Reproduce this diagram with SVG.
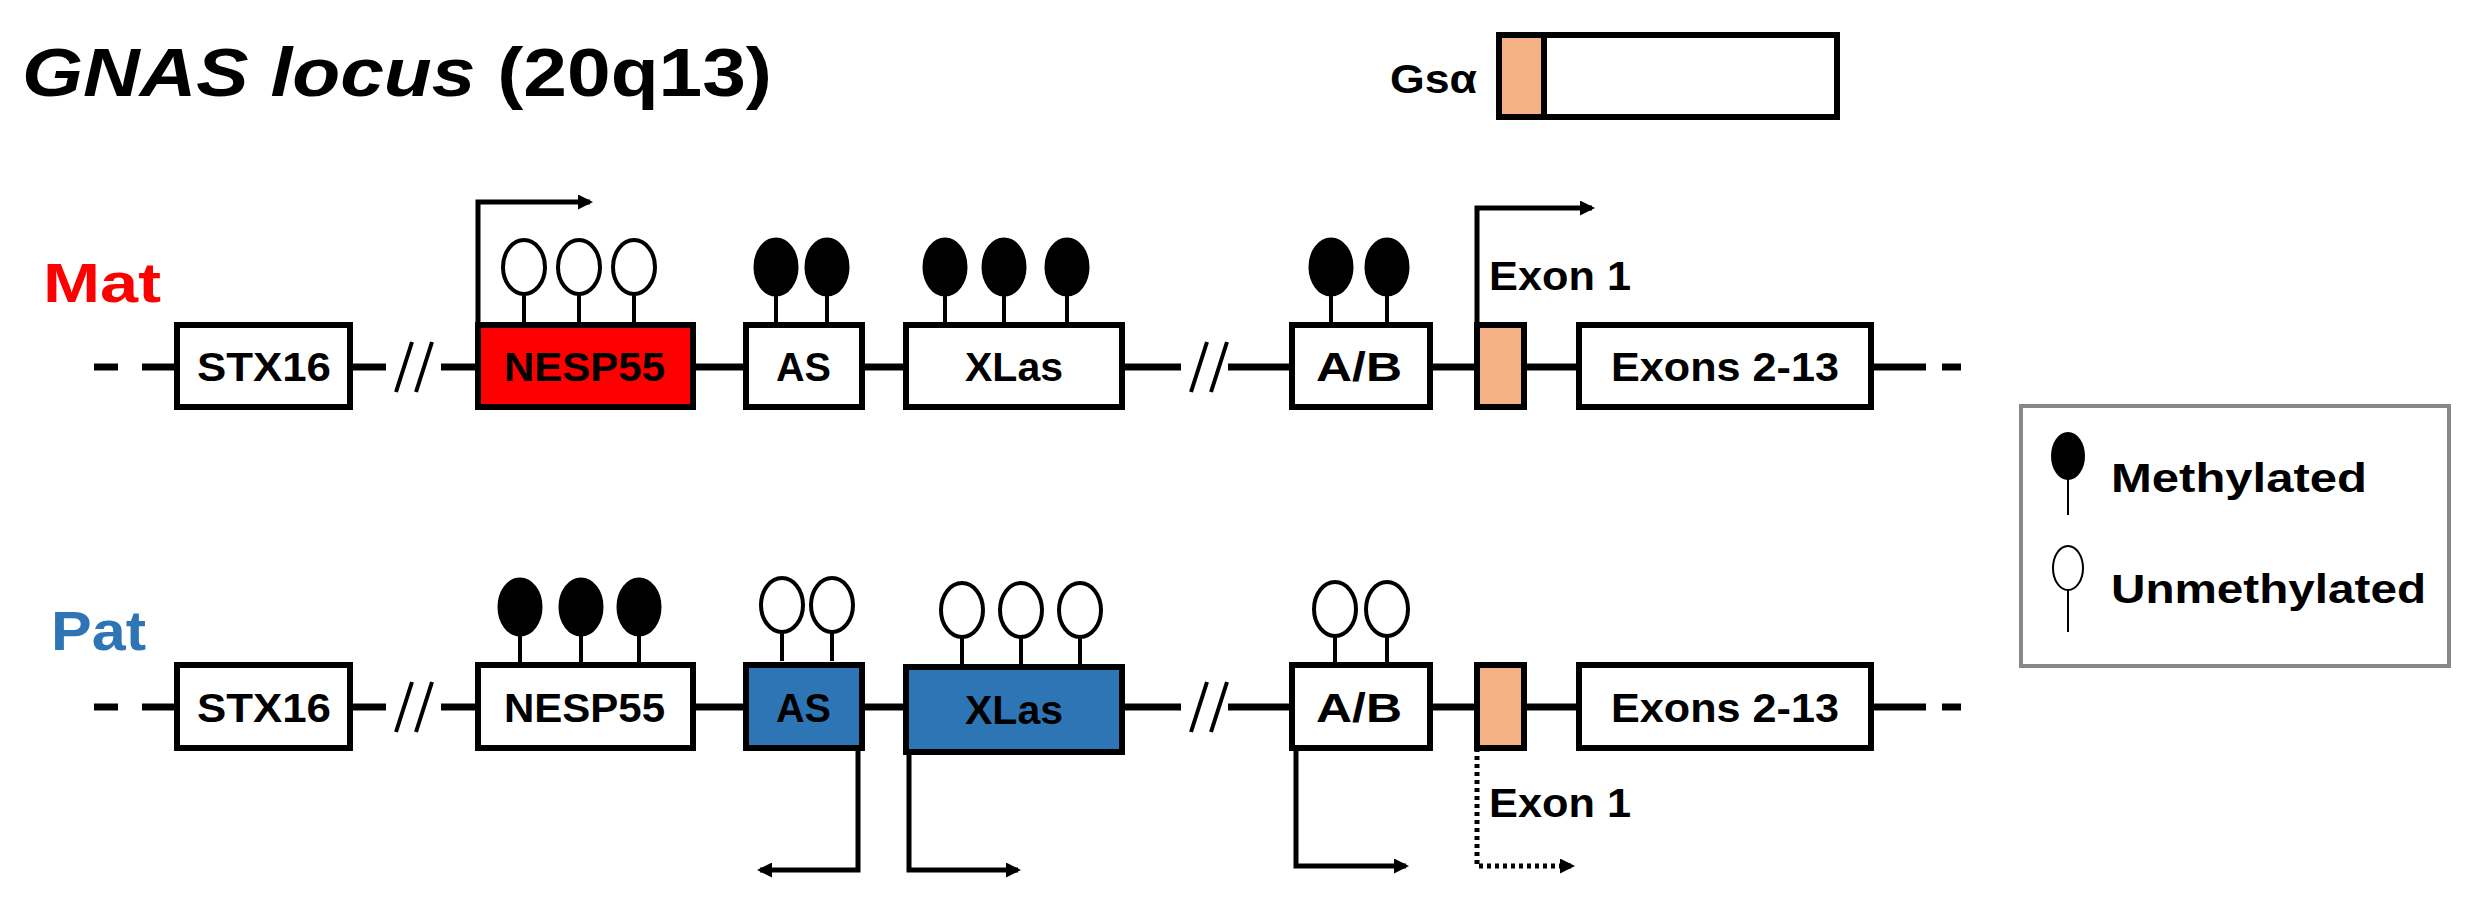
<svg xmlns="http://www.w3.org/2000/svg" width="2466" height="901" viewBox="0 0 2466 901">
<style>
text{font-family:"Liberation Sans",Arial,sans-serif;font-weight:bold;fill:#000}
.box{stroke:#000;stroke-width:6}
.w{fill:#fff}.r{fill:#ff0000}.b{fill:#2e75b6}.o{fill:#f4b183}
.ln{stroke:#000;stroke-width:7;fill:none}
.st{stroke:#000;stroke-width:4;fill:none}
.m{fill:#000;stroke:#000;stroke-width:3}
.u{fill:#fff;stroke:#000;stroke-width:4}
.lbl{font-size:40px}
.ar{stroke:#000;stroke-width:5;fill:none}
</style>
<defs>
<marker id="ah" viewBox="0 0 10 10" refX="8" refY="5" markerWidth="3" markerHeight="3" orient="auto"><path d="M0,0L10,5L0,10z" fill="#000"/></marker>
<g id="mlol"><line class="st" x1="0" y1="20" x2="0" y2="56"/><ellipse class="m" cx="0" cy="0" rx="21" ry="28"/></g>
<g id="ulol"><line class="st" x1="0" y1="26" x2="0" y2="56"/><ellipse class="u" cx="0" cy="0" rx="21" ry="27"/></g>
</defs>
<rect width="2466" height="901" fill="#fff"/>
<text x="22" y="96" font-size="68" textLength="750" lengthAdjust="spacingAndGlyphs"><tspan font-style="italic">GNAS locus</tspan> (20q13)</text>
<g id="gsa">
<text x="1390" y="93" font-size="40" textLength="87" lengthAdjust="spacingAndGlyphs">Gsα</text>
<rect class="box w" x="1499" y="35" width="338" height="82"/>
<rect class="box o" x="1499" y="35" width="45" height="82"/>
</g>
<g id="connectors">
<path class="ln" d="M94,367H118M142,367H177M350,367H386M441,367H476M693,367H746M862,367H906M1122,367H1181M1228,367H1292M1430,367H1475M1524,367H1579M1871,367H1926M1942,367H1961"/>
<path class="st" d="M396,392L412,342M416,392L432,342M1191,392L1207,342M1211,392L1227,342" stroke-width="5"/>
<path class="ln" d="M94,707H118M142,707H177M350,707H386M441,707H476M693,707H746M862,707H906M1122,707H1181M1228,707H1292M1430,707H1475M1524,707H1579M1871,707H1926M1942,707H1961"/>
<path class="st" d="M396,732L412,682M416,732L432,682M1191,732L1207,682M1211,732L1227,682" stroke-width="5"/>
<path class="ar" d="M478,323V202H590" stroke-width="5" marker-end="url(#ah)"/>
<path class="ar" d="M1477,323V208H1592" stroke-width="6" marker-end="url(#ah)"/>
<path class="ar" d="M858,748V870H760" marker-end="url(#ah)"/>
<path class="ar" d="M909,752V870H1018" marker-end="url(#ah)"/>
<path class="ar" d="M1296,748V866H1406" stroke-width="6" marker-end="url(#ah)"/>
<path class="ar" d="M1477,748V866H1572" stroke-dasharray="4,4" stroke-width="4" marker-end="url(#ah)"/>
</g>
<text x="43" y="302" font-size="56" style="fill:#ff0000" textLength="118" lengthAdjust="spacingAndGlyphs">Mat</text>
<text x="51" y="650" font-size="56" style="fill:#2e75b6" textLength="95" lengthAdjust="spacingAndGlyphs">Pat</text>
<g id="mat-stx16"><rect class="box w" x="177" y="325" width="173" height="82"/><text class="lbl" x="197" y="381" textLength="134" lengthAdjust="spacingAndGlyphs">STX16</text></g>
<g id="mat-nesp55"><rect class="box r" x="478" y="325" width="215" height="82"/><text class="lbl" x="504" y="381" textLength="161" lengthAdjust="spacingAndGlyphs">NESP55</text>
<use href="#ulol" x="524" y="267"/><use href="#ulol" x="579" y="267"/><use href="#ulol" x="634" y="267"/></g>
<g id="mat-as"><rect class="box w" x="746" y="325" width="116" height="82"/><text class="lbl" x="776" y="381" textLength="55" lengthAdjust="spacingAndGlyphs">AS</text>
<use href="#mlol" x="776" y="267"/><use href="#mlol" x="827" y="267"/></g>
<g id="mat-xlas"><rect class="box w" x="906" y="325" width="216" height="82"/><text class="lbl" x="965" y="381" textLength="98" lengthAdjust="spacingAndGlyphs">XLas</text>
<use href="#mlol" x="945" y="267"/><use href="#mlol" x="1004" y="267"/><use href="#mlol" x="1067" y="267"/></g>
<g id="mat-ab"><rect class="box w" x="1292" y="325" width="138" height="82"/><text class="lbl" x="1316" y="381" textLength="86" lengthAdjust="spacingAndGlyphs">A/B</text>
<use href="#mlol" x="1331" y="267"/><use href="#mlol" x="1387" y="267"/></g>
<g id="mat-exon1"><rect class="box o" x="1477" y="325" width="47" height="82"/><text x="1489" y="290" font-size="40" textLength="142" lengthAdjust="spacingAndGlyphs">Exon 1</text></g>
<g id="mat-exons"><rect class="box w" x="1579" y="325" width="292" height="82"/><text class="lbl" x="1611" y="381" textLength="228" lengthAdjust="spacingAndGlyphs">Exons 2-13</text></g>
<g id="pat-stx16"><rect class="box w" x="177" y="665" width="173" height="83"/><text class="lbl" x="197" y="722" textLength="134" lengthAdjust="spacingAndGlyphs">STX16</text></g>
<g id="pat-nesp55"><rect class="box w" x="478" y="665" width="215" height="83"/><text class="lbl" x="504" y="722" textLength="161" lengthAdjust="spacingAndGlyphs">NESP55</text>
<use href="#mlol" x="520" y="607"/><use href="#mlol" x="581" y="607"/><use href="#mlol" x="639" y="607"/></g>
<g id="pat-as"><rect class="box b" x="746" y="665" width="116" height="83"/><text class="lbl" x="776" y="722" textLength="55" lengthAdjust="spacingAndGlyphs">AS</text>
<use href="#ulol" x="782" y="605"/><use href="#ulol" x="832" y="605"/></g>
<g id="pat-xlas"><rect class="box b" x="906" y="667" width="216" height="85"/><text class="lbl" x="965" y="724" textLength="98" lengthAdjust="spacingAndGlyphs">XLas</text>
<use href="#ulol" x="962" y="610"/><use href="#ulol" x="1021" y="610"/><use href="#ulol" x="1080" y="610"/></g>
<g id="pat-ab"><rect class="box w" x="1292" y="665" width="138" height="83"/><text class="lbl" x="1316" y="722" textLength="86" lengthAdjust="spacingAndGlyphs">A/B</text>
<use href="#ulol" x="1335" y="609"/><use href="#ulol" x="1387" y="609"/></g>
<g id="pat-exon1"><rect class="box o" x="1477" y="665" width="47" height="83"/><text x="1489" y="817" font-size="40" textLength="142" lengthAdjust="spacingAndGlyphs">Exon 1</text></g>
<g id="pat-exons"><rect class="box w" x="1579" y="665" width="292" height="83"/><text class="lbl" x="1611" y="722" textLength="228" lengthAdjust="spacingAndGlyphs">Exons 2-13</text></g>
<g id="legend">
<rect x="2021" y="406" width="428" height="260" fill="#fff" stroke="#888" stroke-width="4"/>
<line x1="2068" y1="470" x2="2068" y2="515" stroke="#000" stroke-width="2"/>
<ellipse cx="2068" cy="456" rx="17" ry="24" fill="#000"/>
<text x="2111" y="492" font-size="40" textLength="256" lengthAdjust="spacingAndGlyphs">Methylated</text>
<line x1="2068" y1="590" x2="2068" y2="632" stroke="#000" stroke-width="2"/>
<ellipse cx="2068" cy="568" rx="15" ry="22" fill="#fff" stroke="#000" stroke-width="2"/>
<text x="2111" y="603" font-size="40" textLength="315" lengthAdjust="spacingAndGlyphs">Unmethylated</text>
</g>
</svg>
